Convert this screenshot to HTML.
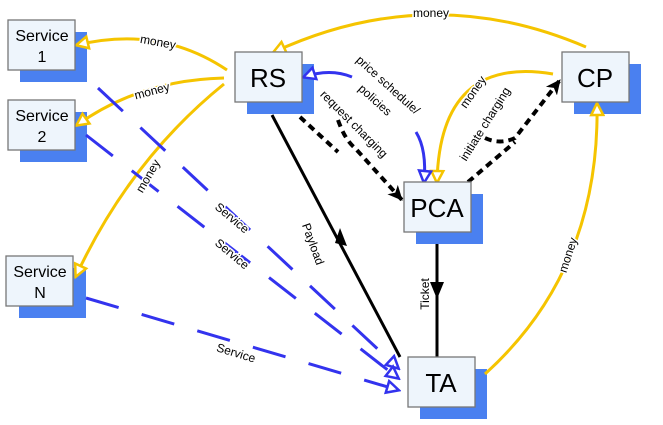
<!DOCTYPE html>
<html><head><meta charset="utf-8"><style>
body{margin:0;background:#fff;width:663px;height:420px;overflow:hidden}
svg{font-family:"Liberation Sans",sans-serif}
</style></head><body>
<svg width="663" height="420" viewBox="0 0 663 420">
<defs>
<marker id="oy" markerWidth="16" markerHeight="16" refX="13" refY="8" orient="auto" markerUnits="userSpaceOnUse"><path d="M2,2 L14,8 L2,14 Z" fill="#fff" stroke="#f5c400" stroke-width="2.5"/></marker>
<marker id="ob" markerWidth="16" markerHeight="16" refX="13" refY="8" orient="auto" markerUnits="userSpaceOnUse"><path d="M2,2 L14,8 L2,14 Z" fill="#fff" stroke="#3333ee" stroke-width="2.5"/></marker>
<marker id="fk" markerWidth="16" markerHeight="16" refX="14" refY="8" orient="auto" markerUnits="userSpaceOnUse"><path d="M0,1 L15,8 L0,15 L4,8 Z" fill="#000"/></marker>
</defs>
<g fill="#4a80f0">
<rect x="20" y="32" width="67" height="50"/><rect x="20" y="112" width="67" height="50"/>
<rect x="19" y="268" width="67" height="50"/><rect x="247" y="64" width="67" height="50"/>
<rect x="574" y="64" width="67" height="50"/><rect x="416" y="194" width="67" height="50"/>
<rect x="420" y="369" width="67" height="50"/>
</g>
<g fill="none" stroke-width="3">
<path d="M227,70 Q160,25 77,45" stroke="#f5c400" marker-end="url(#oy)"/>
<path d="M224,78 Q140,80 77,125" stroke="#f5c400" marker-end="url(#oy)"/>
<path d="M224,84 Q130,160 76,276" stroke="#f5c400" marker-end="url(#oy)"/>
<path d="M586,47 Q430,-20 274,52" stroke="#f5c400" marker-end="url(#oy)"/>
<path d="M553,74 Q440,55 437,182" stroke="#f5c400" marker-end="url(#oy)"/>
<path d="M485,374 Q600,270 597,104" stroke="#f5c400" marker-end="url(#oy)"/>
<path d="M352,77 Q330,68 304,77" stroke="#3333ee" marker-end="url(#ob)"/>
<path d="M416,132 Q427,150 424,182" stroke="#3333ee" marker-end="url(#ob)"/>
<path d="M98,88 L398,368" stroke="#3333ee" stroke-dasharray="34,24" marker-end="url(#ob)"/>
<path d="M86,135 L398,378" stroke="#3333ee" stroke-dasharray="34,24" marker-end="url(#ob)"/>
<path d="M86,298 L398,390" stroke="#3333ee" stroke-dasharray="34,24" marker-end="url(#ob)"/>
<path d="M300,117 L338,152 M338,120 Q345,140 355,148 L402,200" stroke="#000" stroke-width="4" stroke-dasharray="7,5" marker-end="url(#fk)"/>
<path d="M468,182 L515,142 M485,138 Q500,145 515,138 L560,80" stroke="#000" stroke-width="4" stroke-dasharray="7,5" marker-end="url(#fk)"/>
<path d="M272,115 L400,357" stroke="#000"/>
<path d="M437,244 L437,357" stroke="#000"/>
</g>
<path d="M340,228 L347,246 L335,243 Z" fill="#000"/>
<path d="M430,282 L444,282 L437,299 Z" fill="#000"/>
<g fill="#eef5fc" stroke="#777" stroke-width="1.3">
<rect x="8" y="20" width="67" height="50"/><rect x="8" y="100" width="67" height="50"/>
<rect x="6" y="256" width="67" height="50"/><rect x="235" y="52" width="67" height="50"/>
<rect x="562" y="52" width="67" height="50"/><rect x="404" y="182" width="67" height="50"/>
<rect x="408" y="357" width="67" height="50"/>
</g>
<g text-anchor="middle" fill="#000" font-size="16">
<text x="42" y="41">Service</text><text x="42" y="62">1</text>
<text x="42" y="121">Service</text><text x="42" y="142">2</text>
<text x="40" y="277">Service</text><text x="40" y="298">N</text>
</g>
<g text-anchor="middle" fill="#000" font-size="26">
<text x="268" y="87">RS</text><text x="595" y="87">CP</text>
<text x="437" y="217">PCA</text><text x="441" y="392">TA</text>
</g>
<g font-size="12" fill="#000" text-anchor="middle">
<text x="158" y="46" transform="rotate(10 158 42)" stroke="#fff" stroke-width="3" paint-order="stroke">money</text>
<text x="152" y="95" transform="rotate(-15 152 91)" stroke="#fff" stroke-width="3" paint-order="stroke">money</text>
<text x="148" y="180" transform="rotate(-60 148 176)" stroke="#fff" stroke-width="3" paint-order="stroke">money</text>
<text x="431" y="17" stroke="#fff" stroke-width="3" paint-order="stroke">money</text>
<text x="473" y="96" transform="rotate(-55 473 92)" stroke="#fff" stroke-width="3" paint-order="stroke">money</text>
<text x="568" y="259" transform="rotate(-72 568 255)" stroke="#fff" stroke-width="3" paint-order="stroke">money</text>
<text x="388" y="89" transform="rotate(42 388 85)">price schedule/</text>
<text x="375" y="104" transform="rotate(42 375 100)">policies</text>
<text x="354" y="128" transform="rotate(45 354 124)">request charging</text>
<text x="485" y="128" transform="rotate(-58 485 124)">initiate charging</text>
<text x="232" y="222" transform="rotate(40 232 218)" stroke="#fff" stroke-width="3" paint-order="stroke">Service</text>
<text x="232" y="258" transform="rotate(40 232 254)" stroke="#fff" stroke-width="3" paint-order="stroke">Service</text>
<text x="236" y="357" transform="rotate(17 236 353)" stroke="#fff" stroke-width="3" paint-order="stroke">Service</text>
<text x="313" y="248" transform="rotate(70 313 244)">Payload</text>
<text x="425" y="298" transform="rotate(-90 425 294)">Ticket</text>
</g>
</svg>
</body></html>
